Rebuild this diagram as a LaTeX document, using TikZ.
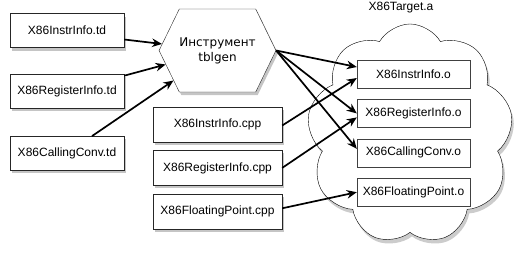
\documentclass[tikz,border=0pt]{standalone}
\usepackage{fontspec}
\setmainfont{Liberation Sans}
\newfontfamily\hexfont{DejaVu Sans}
\usetikzlibrary{arrows.meta,positioning,shapes.symbols,shadows}
\tikzset{
    srcbox/.style={draw=black!85, fill=white, font=\fontsize{12}{14}\selectfont,
        minimum width=114pt, minimum height=34pt, inner sep=0pt,
        drop shadow={shadow xshift=2pt, shadow yshift=-3pt, fill=black!45}},
    cppbox/.style={srcbox, minimum width=129pt, minimum height=35pt},
    objbox/.style={draw=black!75, fill=white, font=\fontsize{12}{14}\selectfont,
        minimum width=113pt, minimum height=28pt, inner sep=0pt},
    genarrow/.style={-{Stealth[length=10pt, width=8.5pt]}, line width=1.7pt}
}
\begin{document}
\begin{tikzpicture}
\useasboundingbox (0pt,0pt) rectangle (520pt,-258pt);
% archive
\node[cloud, cloud puffs=9, cloud puff arc=120, aspect=0.95, draw=black, fill=white,
    minimum width=206pt, minimum height=220pt,
    drop shadow={shadow xshift=2pt, shadow yshift=-4pt, fill=black!40}]
    (archive) at (410pt,-134pt) {};
\node[font=\fontsize{12}{14}\selectfont] (archivename) at (401pt,-8pt) {X86Target.a};
% tablegen sources
\node[srcbox] (instrtd) at (67pt,-30.5pt) {X86InstrInfo.td};
\node[srcbox, below=26pt of instrtd] (regtd) {X86RegisterInfo.td};
\node[srcbox, below=28pt of regtd] (calltd) {X86CallingConv.td};
% generator
\node[signal, signal to=west and east, signal pointer angle=128, draw=black!85, fill=white,
    minimum width=107pt, minimum height=83pt, inner sep=0pt, align=center,
    font=\hexfont\fontsize{12}{15}\selectfont,
    drop shadow={shadow xshift=2pt, shadow yshift=-3pt, fill=black!45}]
    (tblgen) at (217.5pt,-50.5pt) {Инструмент\\tblgen};
% c++ sources
\node[cppbox] (instrcpp) at (217.5pt,-124.5pt) {X86InstrInfo.cpp};
\node[cppbox, below=8pt of instrcpp] (regcpp) {X86RegisterInfo.cpp};
\node[cppbox, below=8pt of regcpp] (fpcpp) {X86FloatingPoint.cpp};
% objects
\node[objbox] (instro) at (413.5pt,-74pt) {X86InstrInfo.o};
\node[objbox, below=11pt of instro] (rego) {X86RegisterInfo.o};
\node[objbox, below=11pt of rego] (callo) {X86CallingConv.o};
\node[objbox, below=11pt of callo] (fpo) {X86FloatingPoint.o};
\draw[genarrow] ([yshift=-9pt]instrtd.east) -- (tblgen);
\draw[genarrow] ([yshift=-2pt]regtd.north east) -- (tblgen);
\draw[genarrow] ([xshift=25pt]calltd.north) -- (tblgen);
\draw[genarrow] (tblgen.east) -- ([yshift=7pt]instro.west);
\draw[genarrow] (tblgen.east) -- (rego.west);
\draw[genarrow] (tblgen.east) -- ([yshift=4pt]callo.west);
\draw[genarrow] ([yshift=-1pt]instrcpp.east) -- ([yshift=-4pt]instro.west);
\draw[genarrow] (regcpp.east) -- ([yshift=-4pt]rego.west);
\draw[genarrow] ([yshift=3pt]fpcpp.east) -- (fpo.west);
\end{tikzpicture}
\end{document}
